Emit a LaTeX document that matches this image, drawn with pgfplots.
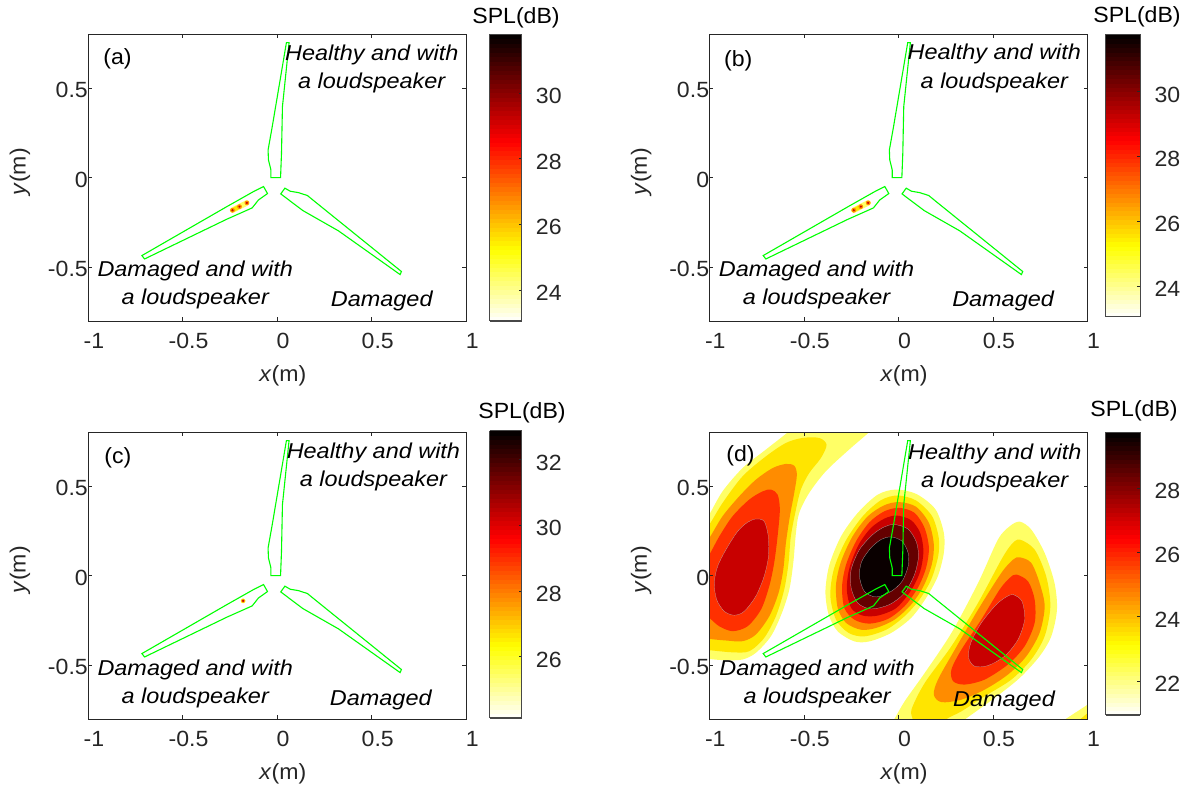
\documentclass[border=0pt]{standalone}
\usepackage{fontspec}
\setmainfont[FakeStretch=1.05]{Liberation Sans}
\newfontfamily\labfam[FakeStretch=1.09]{Liberation Sans}
\usepackage{pgfplots}
\pgfplotsset{compat=1.18}
\definecolor{axc}{rgb}{0.15,0.15,0.15}
\definecolor{bladec}{rgb}{0,1,0}
\definecolor{cA}{RGB}{255,255,102}
\definecolor{cB}{RGB}{255,229,0}
\definecolor{cC}{RGB}{255,140,0}
\definecolor{cD}{RGB}{255,48,0}
\definecolor{cE}{RGB}{200,0,0}
\definecolor{cF}{RGB}{100,0,0}
\definecolor{cG}{RGB}{10,0,0}
\newcommand\tickfont{\fontsize{22}{26}\selectfont}
\newcommand\labfont{\labfam\fontsize{21.5}{25}\selectfont\itshape}
\pgfplotsset{
  colormap={hotr}{rgb(0cm)=(1,1,1); rgb(2cm)=(1,1,0); rgb(5cm)=(1,0,0); rgb(8cm)=(0,0,0)},
  panel/.style={
    scale only axis, width=378.3pt, height=286.8pt, anchor=south west,
    xmin=-1, xmax=1, ymin=-0.8, ymax=0.8,
    xtick={-1,-0.5,0,0.5,1}, xticklabels={-1,-0.5,0,0.5,1},
    ytick={-0.5,0,0.5}, yticklabels={-0.5,0,0.5},
    tick align=inside, major tick length=4pt,
    tick style={color=axc, line width=0.5pt},
    axis line style={color=axc, line width=0.9pt},
    axis on top, clip=true,
    tick label style={font=\tickfont, text=axc, inner sep=0pt},
    x tick label style={xshift=6pt},
    y tick label style={yshift=-2pt},
    xticklabel shift=12pt,
    xlabel={\textit{x}(m)}, ylabel={\textit{y}(m)},
    xlabel style={font=\tickfont, text=axc, at={(axis description cs:0.515,-0.192)}, anchor=center},
    ylabel style={font=\tickfont, text=axc, at={(axis description cs:-0.18,0.52)}, anchor=center},
    colormap name=hotr, colorbar sampled,
  },
  cbar/.style n args={7}{% min, max, w, h, ticks, xshift, yshift
    point meta min=#1, point meta max=#2,
    colorbar style={
      samples=65, scale only axis, width=#3, height=#4,
      at={(parent axis.south east)}, anchor=south west, xshift=#6, yshift=#7,
      xtick=\empty,
      ytick={#5}, yticklabels={#5},
      ytick pos=right, yticklabel pos=right,
      tick align=inside, major tick length=3pt,
      tick style={color=axc, line width=0.5pt},
      axis line style={color=axc!85!white, line width=1.1pt},
      y tick label style={font=\tickfont, text=axc, inner sep=0pt, yshift=-3pt},
      yticklabel shift=14pt,
    },
  },
}
\newcommand\blades{%
  \addplot[bladec, line width=1.1pt] coordinates {(-0.033,0)(0.018,0)(0.023,0.136)(0.028,0.396)(0.063,0.753)(0.049,0.753)(-0.026,0.284)(-0.048,0.154)(-0.046,0.099)(-0.033,0.043)} -- cycle;
  \addplot[bladec, line width=1.1pt] coordinates {(-0.072,-0.050)(-0.051,-0.089)(-0.099,-0.125)(-0.132,-0.169)(-0.187,-0.195)(-0.266,-0.232)(-0.701,-0.454)(-0.715,-0.435)(-0.266,-0.162)(-0.125,-0.078)} -- cycle;
  \addplot[bladec, line width=1.1pt] coordinates {(0.041,-0.059)(0.019,-0.091)(0.136,-0.184)(0.324,-0.297)(0.650,-0.541)(0.657,-0.524)(0.210,-0.143)(0.160,-0.100)(0.113,-0.084)(0.069,-0.076)} -- cycle;
}
\newcommand\spots{%
  \addplot[color=cA, line width=5.5pt, line cap=round] coordinates {(-0.236,-0.182)(-0.199,-0.162)(-0.160,-0.141)};
  \addplot[color=cB, line width=4pt, line cap=round] coordinates {(-0.236,-0.182)(-0.199,-0.162)};
  \addplot[only marks, color=cC, mark=*, mark size=2.1pt] coordinates {(-0.236,-0.182)(-0.199,-0.162)(-0.160,-0.141)};
  \addplot[only marks, color=cE, mark=*, mark size=0.8pt] coordinates {(-0.236,-0.182)(-0.199,-0.162)(-0.160,-0.141)};
}
\newcommand\labels[8]{%
  \node[font=\labfont, yshift=-2pt] at (axis cs:#1,#2) {Healthy and with};
  \node[font=\labfont, yshift=-2pt] at (axis cs:#1,#3) {a loudspeaker};
  \node[font=\labfont, yshift=-2pt] at (axis cs:#4,#5) {Damaged and with};
  \node[font=\labfont, yshift=-2pt] at (axis cs:#4,#6) {a loudspeaker};
  \node[font=\labfont, yshift=-2pt] at (axis cs:#7,#8) {Damaged};
}
\begin{document}
\begin{tikzpicture}[x=1pt,y=1pt]
\path[use as bounding box] (0,0) rectangle (1192,789);

% (a)
\begin{axis}[panel, at={(88pt,468pt)}, cbar={23.05}{31.8}{32pt}{286.8pt}{24,26,28,30}{14.9pt}{0pt}]
\spots
\blades
\labels{0.50}{0.697}{0.541}{-0.433}{-0.509}{-0.664}{0.553}{-0.676}
\node[font=\tickfont, text=black, yshift=-2pt] at (axis cs:-0.844,0.675) {(a)};
\end{axis}
\node[font=\tickfont, text=black] at (516,771) {SPL(dB)};

% (b)
\begin{axis}[panel, at={(709.3pt,468pt)}, cbar={23.05}{31.77}{34.7pt}{282.4pt}{24,26,28,30}{9.5pt}{4.4pt}]
\spots
\blades
\labels{0.507}{0.699}{0.541}{-0.433}{-0.509}{-0.664}{0.553}{-0.676}
\node[font=\tickfont, text=black, yshift=-2pt] at (axis cs:-0.847,0.662) {(b)};
\end{axis}
\node[font=\tickfont, text=black] at (1137,772) {SPL(dB)};

% (c)
\begin{axis}[panel, at={(88pt,70pt)}, cbar={24.13}{32.88}{32pt}{287.3pt}{26,28,30,32}{14.9pt}{1pt}]
\addplot[only marks, color=cB, mark=*, mark size=2.1pt] coordinates {(-0.18,-0.141)};
\addplot[only marks, color=cC, mark=*, mark size=1.5pt] coordinates {(-0.18,-0.141)};
\addplot[only marks, color=cE, mark=*, mark size=0.8pt] coordinates {(-0.18,-0.141)};
\blades
\labels{0.509}{0.693}{0.539}{-0.433}{-0.515}{-0.673}{0.548}{-0.682}
\node[font=\tickfont, text=black, yshift=-2pt] at (axis cs:-0.842,0.671) {(c)};
\end{axis}
\node[font=\tickfont, text=black] at (522,376) {SPL(dB)};

% (d)
\begin{axis}[panel, at={(709.3pt,70pt)}, cbar={20.94}{29.73}{34.7pt}{282.7pt}{22,24,26,28}{9.5pt}{4pt}]
% left blob
\addplot[fill=cA, draw=none, smooth cycle] coordinates {(-1.05,0.28)(-1.0,0.342)(-0.930,0.470)(-0.824,0.600)(-0.701,0.703)(-0.586,0.799)(-0.53,0.86)(-0.10,0.86)(-0.155,0.80)(-0.261,0.703)(-0.384,0.582)(-0.472,0.461)(-0.525,0.349)(-0.542,0.238)(-0.556,0.071)(-0.577,-0.078)(-0.616,-0.208)(-0.674,-0.338)(-0.754,-0.431)(-0.824,-0.468)(-0.912,-0.472)(-1.0,-0.465)(-1.05,-0.45)};
\addplot[fill=cB, draw=none, smooth cycle] coordinates {(-1.05,0.22)(-1.0,0.284)(-0.930,0.405)(-0.824,0.554)(-0.701,0.665)(-0.595,0.740)(-0.507,0.768)(-0.419,0.768)(-0.380,0.730)(-0.410,0.656)(-0.472,0.572)(-0.516,0.480)(-0.542,0.368)(-0.569,0.219)(-0.581,0.071)(-0.604,-0.078)(-0.648,-0.227)(-0.710,-0.348)(-0.789,-0.422)(-0.877,-0.428)(-1.0,-0.416)(-1.05,-0.41)};
\addplot[fill=cC, draw=none, smooth cycle] coordinates {(-1.05,0.15)(-1.0,0.210)(-0.930,0.331)(-0.842,0.442)(-0.754,0.535)(-0.665,0.600)(-0.595,0.623)(-0.551,0.613)(-0.537,0.563)(-0.551,0.461)(-0.574,0.331)(-0.595,0.182)(-0.609,0.033)(-0.634,-0.097)(-0.683,-0.227)(-0.754,-0.329)(-0.824,-0.366)(-0.912,-0.362)(-1.0,-0.353)(-1.05,-0.34)};
\addplot[fill=cD, draw=none, smooth cycle] coordinates {(-1.05,0.05)(-1.0,0.117)(-0.947,0.219)(-0.877,0.331)(-0.789,0.424)(-0.718,0.470)(-0.674,0.480)(-0.639,0.452)(-0.627,0.368)(-0.639,0.219)(-0.657,0.071)(-0.683,-0.059)(-0.727,-0.190)(-0.798,-0.283)(-0.877,-0.310)(-0.947,-0.283)(-1.0,-0.236)(-1.05,-0.20)};
\addplot[fill=cE, draw=gray!50, line width=0.2pt, smooth cycle] coordinates {(-0.754,0.316)(-0.710,0.303)(-0.688,0.219)(-0.687,0.108)(-0.710,-0.004)(-0.754,-0.115)(-0.815,-0.199)(-0.868,-0.221)(-0.921,-0.199)(-0.961,-0.134)(-0.974,-0.041)(-0.956,0.052)(-0.912,0.145)(-0.850,0.247)(-0.798,0.297)};
% centre blob
\addplot[fill=cA, draw=none, smooth cycle] coordinates {(-0.012,0.480)(0.097,0.454)(0.196,0.369)(0.240,0.238)(0.240,0.127)(0.208,-0.004)(0.146,-0.125)(0.067,-0.236)(-0.039,-0.320)(-0.153,-0.367)(-0.233,-0.367)(-0.321,-0.311)(-0.369,-0.218)(-0.386,-0.088)(-0.365,0.061)(-0.303,0.220)(-0.215,0.350)(-0.109,0.452)};
\addplot[fill=cB, draw=none, smooth cycle] coordinates {(-0.004,0.447)(0.093,0.419)(0.178,0.331)(0.213,0.210)(0.210,0.108)(0.173,-0.022)(0.111,-0.134)(0.032,-0.227)(-0.065,-0.302)(-0.180,-0.339)(-0.263,-0.320)(-0.330,-0.246)(-0.360,-0.115)(-0.342,0.034)(-0.280,0.192)(-0.189,0.331)(-0.092,0.421)};
\addplot[fill=cC, draw=none, smooth cycle] coordinates {(0.005,0.410)(0.093,0.384)(0.161,0.294)(0.187,0.173)(0.176,0.061)(0.132,-0.060)(0.067,-0.162)(-0.021,-0.246)(-0.118,-0.292)(-0.198,-0.302)(-0.277,-0.264)(-0.321,-0.181)(-0.330,-0.050)(-0.303,0.080)(-0.242,0.220)(-0.162,0.331)(-0.074,0.393)};
\addplot[fill=cD, draw=none, smooth cycle] coordinates {(0.005,0.378)(0.085,0.350)(0.138,0.266)(0.161,0.155)(0.146,0.043)(0.102,-0.069)(0.032,-0.171)(-0.056,-0.242)(-0.153,-0.268)(-0.233,-0.246)(-0.286,-0.181)(-0.298,-0.060)(-0.277,0.061)(-0.224,0.192)(-0.153,0.298)(-0.074,0.359)};
\addplot[fill=cE, draw=none, smooth cycle] coordinates {(-0.009,0.335)(0.067,0.309)(0.115,0.238)(0.132,0.136)(0.115,0.024)(0.067,-0.082)(-0.012,-0.181)(-0.109,-0.223)(-0.189,-0.223)(-0.250,-0.181)(-0.273,-0.078)(-0.259,0.043)(-0.210,0.173)(-0.145,0.266)(-0.074,0.318)};
\addplot[fill=cF, draw=gray!50, line width=0.2pt, smooth cycle] coordinates {(-0.021,0.285)(0.049,0.261)(0.093,0.192)(0.106,0.108)(0.085,0.006)(0.032,-0.097)(-0.048,-0.162)(-0.145,-0.186)(-0.215,-0.153)(-0.250,-0.069)(-0.250,0.034)(-0.206,0.145)(-0.136,0.229)(-0.074,0.272)};
\addplot[fill=cG, draw=gray!50, line width=0.2pt, smooth cycle] coordinates {(-0.039,0.216)(0.019,0.192)(0.051,0.127)(0.051,0.052)(0.019,-0.032)(-0.039,-0.088)(-0.118,-0.119)(-0.180,-0.088)(-0.206,-0.004)(-0.194,0.080)(-0.145,0.155)(-0.092,0.201)};
% right blob
\addplot[fill=cA, draw=none, smooth cycle] coordinates {(-0.08,-0.90)(-0.023,-0.803)(0.033,-0.701)(0.139,-0.543)(0.280,-0.320)(0.421,-0.041)(0.526,0.201)(0.588,0.275)(0.641,0.301)(0.702,0.257)(0.773,0.126)(0.825,-0.041)(0.838,-0.190)(0.808,-0.338)(0.746,-0.450)(0.641,-0.571)(0.509,-0.682)(0.350,-0.803)(0.22,-0.90)};
\addplot[fill=cB, draw=none, smooth cycle] coordinates {(0.08,-0.90)(0.077,-0.807)(0.069,-0.747)(0.139,-0.599)(0.280,-0.394)(0.421,-0.152)(0.544,0.089)(0.597,0.173)(0.641,0.201)(0.720,0.145)(0.781,-0.004)(0.803,-0.171)(0.773,-0.338)(0.702,-0.468)(0.597,-0.580)(0.456,-0.673)(0.333,-0.757)(0.245,-0.807)(0.16,-0.90)};
\addplot[fill=cC, draw=none, smooth cycle] coordinates {(0.641,0.102)(0.702,0.071)(0.746,-0.041)(0.773,-0.171)(0.746,-0.320)(0.676,-0.450)(0.579,-0.552)(0.456,-0.636)(0.333,-0.692)(0.227,-0.706)(0.187,-0.664)(0.209,-0.580)(0.298,-0.413)(0.421,-0.190)(0.544,0.015)(0.606,0.089)};
\addplot[fill=cD, draw=none, smooth cycle] coordinates {(0.623,0.006)(0.685,-0.032)(0.720,-0.134)(0.720,-0.264)(0.667,-0.394)(0.579,-0.496)(0.456,-0.580)(0.350,-0.608)(0.289,-0.589)(0.280,-0.524)(0.333,-0.413)(0.438,-0.245)(0.535,-0.078)(0.588,-0.013)};
\addplot[fill=cE, draw=gray!50, line width=0.2pt, smooth cycle] coordinates {(0.606,-0.106)(0.653,-0.143)(0.667,-0.245)(0.632,-0.357)(0.561,-0.450)(0.473,-0.502)(0.403,-0.506)(0.371,-0.459)(0.382,-0.376)(0.438,-0.264)(0.517,-0.162)(0.570,-0.119)};
% corner patch
\addplot[fill=cA, draw=none] coordinates {(0.884,-0.80)(1,-0.72)(1,-0.80)} -- cycle;
\addplot[fill=cB, draw=none] coordinates {(0.963,-0.80)(1,-0.767)(1,-0.80)} -- cycle;
\blades
\labels{0.509}{0.690}{0.535}{-0.430}{-0.515}{-0.673}{0.558}{-0.688}
\node[font=\tickfont, text=black, yshift=-2pt] at (axis cs:-0.835,0.679) {(d)};
\end{axis}
\node[font=\tickfont, text=black] at (1134,378) {SPL(dB)};
\end{tikzpicture}
\end{document}
